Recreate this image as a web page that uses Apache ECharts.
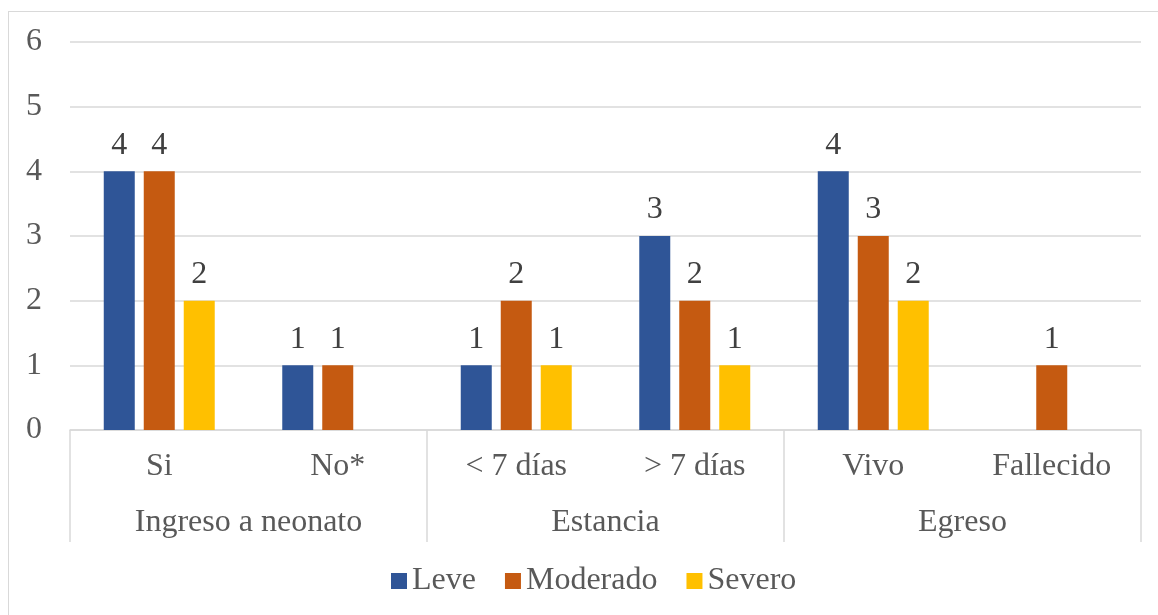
<!DOCTYPE html>
<html>
<head>
<meta charset="utf-8">
<script src="https://cdn.jsdelivr.net/npm/echarts@6/dist/echarts.min.js"></script>
<style>
  html, body { margin:0; padding:0; background:#fff; }
  #frame { position:absolute; left:8px; top:11px; width:1200px; height:700px; border:1px solid #d9d9d9; box-sizing:border-box; }
  #chart { position:absolute; left:0; top:0; width:1158px; height:615px; }
</style>
</head>
<body>
<div id="frame"></div>
<div id="chart"></div>
<script>
const categories = ['Si', 'No*', '< 7 días', '> 7 días', 'Vivo', 'Fallecido'];
const groups = ['Ingreso a neonato', 'Estancia', 'Egreso'];
const seriesNames = ['Leve', 'Moderado', 'Severo'];
const leve = [4, 1, 1, 3, 4, null];
const moderado = [4, 1, 2, 2, 3, 1];
const severo = [2, null, 1, 1, 2, null];
const yTicks = [0, 1, 2, 3, 4, 5, 6];

const colors = ['#2F5597', '#C55A11', '#FFC000'];
const font = 'Liberation Serif, Times New Roman, serif';
const fs = 32;
const chart = echarts.init(document.getElementById('chart'));

function mk(name, data, color) {
  return {
    name: name, type: 'bar', data: data, barWidth: 31, barGap: '29%',
    itemStyle: { color: color },
    label: { show: true, position: 'top', distance: 10, fontSize: fs, fontFamily: font, color: '#404040' },
    xAxisIndex: 0
  };
}

chart.setOption({
  animation: false,
  textStyle: { fontFamily: font },
  grid: { left: 70, right: 17, top: 42, bottom: 185, containLabel: false },
  legend: {
    data: seriesNames, bottom: 13, left: 386, icon: 'rect', itemWidth: 16, itemHeight: 16, itemGap: 29,
    textStyle: { fontSize: fs, fontFamily: font, color: '#595959' }
  },
  xAxis: [
    {
      type: 'category', data: categories, position: 'bottom',
      axisLine: { lineStyle: { color: '#d9d9d9', width: 1.5 } },
      axisTick: { show: false },
      axisLabel: { fontSize: fs, fontFamily: font, color: '#595959', margin: 21 }
    },
    {
      type: 'category', data: groups, position: 'bottom',
      axisLine: { show: false },
      axisTick: { show: true, length: 112, lineStyle: { color: '#d9d9d9', width: 1.5 } },
      axisLabel: { fontSize: fs, fontFamily: font, color: '#595959', margin: 77 }
    }
  ],
  yAxis: {
    type: 'value', min: 0, max: 6, interval: 1,
    axisLine: { show: false }, axisTick: { show: false },
    splitLine: { lineStyle: { color: '#d9d9d9', width: 1.5 } },
    axisLabel: { fontSize: fs, fontFamily: font, color: '#595959', margin: 28,
      formatter: function (v) { return yTicks.indexOf(v) >= 0 ? String(v) : ''; } }
  },
  series: [mk(seriesNames[0], leve, colors[0]), mk(seriesNames[1], moderado, colors[1]), mk(seriesNames[2], severo, colors[2])]
});
</script>
</body>
</html>
